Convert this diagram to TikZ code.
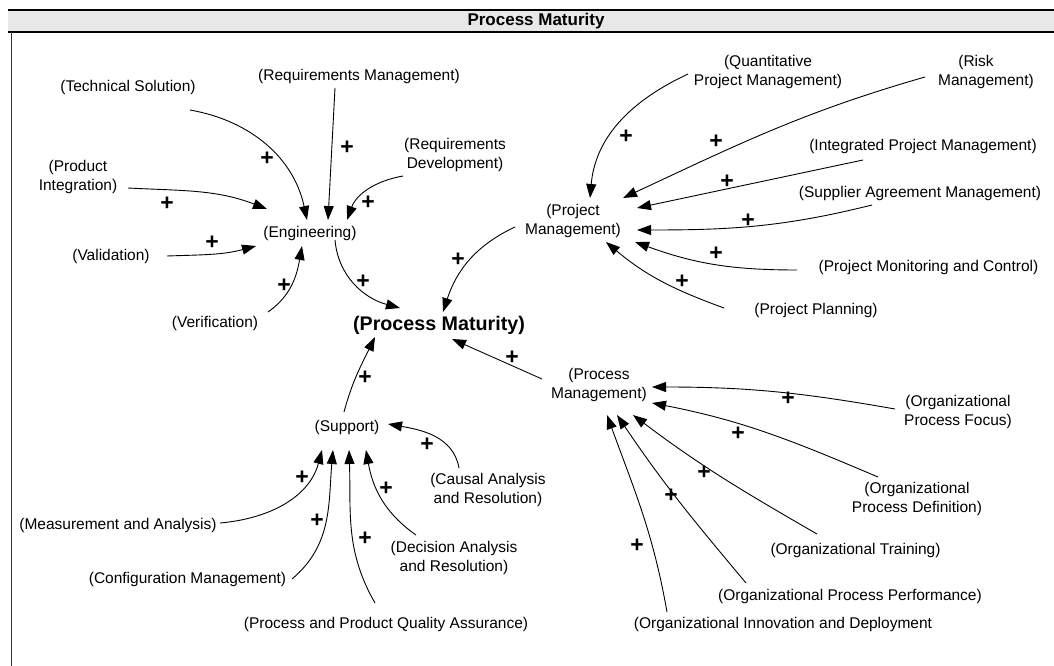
\documentclass[tikz,border=0pt]{standalone}
\usepackage{fontspec}
\setmainfont{Liberation Sans}
\usetikzlibrary{arrows.meta,calc}
\definecolor{bandgrey}{HTML}{E8E8E8}
\begin{document}
\begin{tikzpicture}[x=1pt,y=1pt,
  lbl/.style={font=\fontsize{15.5}{19}\selectfont, align=center, inner sep=0pt},
  big/.style={font=\fontsize{19.7}{22}\selectfont\bfseries, inner sep=0pt},
  pl/.style={font=\fontsize{23}{23}\selectfont\bfseries, inner sep=0pt},
  conn/.style={line width=0.9pt, -{Triangle[length=14pt,width=10pt]}}]
\useasboundingbox (0,0) rectangle (1054,-666);
% frame
\fill[bandgrey] (8,-10) rectangle (1054,-32);
\draw[line width=2pt] (8,-10) -- (1054,-10);
\draw[line width=2pt] (8,-32) -- (1054,-32);
\draw[line width=1pt, black!80] (11,-32) -- (11,-666);
\node[font=\fontsize{17}{17}\selectfont\bfseries, inner sep=0pt] (title) at (536,-21) {Process Maturity};
% nodes
\node[lbl] (ts) at (128,-87) {(Technical Solution)};
\node[lbl] (rm) at (359,-76) {(Requirements Management)};
\node[lbl] (rd) at (455,-155) {(Requirements\\Development)};
\node[lbl] (pi) at (78,-177) {(Product\\Integration)};
\node[lbl] (val) at (111,-256) {(Validation)};
\node[lbl] (eng) at (310,-233) {(Engineering)};
\node[lbl] (ver) at (215,-323) {(Verification)};
\node[big] (pmat) at (439,-325) {(Process Maturity)};
\node[lbl] (pm) at (573,-221) {(Project\\Management)};
\node[lbl] (qpm) at (768,-72) {(Quantitative\\Project Management)};
\node[lbl] (risk) at (986,-72) {(Risk\hspace*{20pt}\\Management)};
\node[lbl] (ipm) at (923,-146) {(Integrated Project Management)};
\node[lbl] (sam) at (920,-193) {(Supplier Agreement Management)};
\node[lbl] (pmc) at (928.5,-267) {(Project Monitoring and Control)};
\node[lbl] (pp) at (816,-310) {(Project Planning)};
\node[lbl] (procm) at (599,-385) {(Process\\Management)};
\node[lbl] (opf) at (958,-412) {(Organizational\\Process Focus)};
\node[lbl] (opd) at (917,-499) {(Organizational\\Process Definition)};
\node[lbl] (ot) at (855.5,-550) {(Organizational Training)};
\node[lbl] (opp) at (850,-596) {(Organizational Process Performance)};
\node[lbl] (oid) at (783,-624) {(Organizational Innovation and Deployment};
\node[lbl] (sup) at (347,-427) {(Support)};
\node[lbl] (car) at (488,-490) {(Causal Analysis\\and Resolution)};
\node[lbl] (dar) at (454,-558) {(Decision Analysis\\and Resolution)};
\node[lbl] (ma) at (118,-525) {(Measurement and Analysis)};
\node[lbl] (cm) at (187.5,-579) {(Configuration Management)};
\node[lbl] (ppqa) at (386,-624) {(Process and Product Quality Assurance)};
% connectors: engineering
\draw[conn] ($(ts)+(62,-23)$) to[out=-10,in=102] ($(eng)+(-3,13)$);
\draw[conn] ($(rm)+(-24,-12)$) -- ($(eng)+(18,13)$);
\draw[conn] ($(rd)+(-52,-21)$) to[out=190,in=70] ($(eng)+(37,13)$);
\draw[conn] ($(pi)+(50,-11)$) to[out=-3,in=159] ($(eng)+(-43,24)$);
\draw[conn] ($(val)+(56,0)$) to[out=2,in=195] ($(eng)+(-54,-13)$);
\draw[conn] ($(ver)+(53,11)$) to[out=35,in=260] ($(eng)+(-8,-13)$);
\draw[conn] ($(eng)+(25,-7)$) to[out=-85,in=165] ($(pmat)+(-39,17)$);
% project management
\draw[conn] ($(pm)+(-58,-6)$) to[out=205,in=72] ($(pmat)+(4,13)$);
\draw[conn] ($(qpm)+(-80,-2)$) to[out=205,in=85] ($(pm)+(17,23)$);
\draw[conn] ($(risk)+(-61,-5)$) to[out=196,in=25] ($(pm)+(50,23)$);
\draw[conn] ($(ipm)+(-60,-14)$) -- ($(pm)+(64,13)$);
\draw[conn] ($(sam)+(-48,-12)$) to[out=194,in=0] ($(pm)+(64,-9)$);
\draw[conn] ($(pmc)+(-131.5,-3)$) to[out=180,in=-20] ($(pm)+(62,-21)$);
\draw[conn] ($(pp)+(-92,2)$) to[out=160,in=-40] ($(pm)+(33,-21)$);
% process management
\draw[conn] ($(procm)+(-57,6)$) -- ($(pmat)+(13,-14)$);
\draw[conn] ($(opf)+(-63,3)$) to[out=170,in=0] ($(procm)+(53,-2)$);
\draw[conn] ($(opd)+(-39,22)$) to[out=157,in=-11] ($(procm)+(53,-18)$);
\draw[conn] ($(ot)+(-38.5,16)$) to[out=150,in=-37] ($(procm)+(34,-30)$);
\draw[conn] ($(opp)+(-104,13)$) to[out=130,in=-56] ($(procm)+(18,-30)$);
\draw[conn] ($(oid)+(-116,12)$) to[out=100,in=-70] ($(procm)+(8,-30)$);
% support
\draw[conn] ($(sup)+(-3,15)$) to[out=75,in=244] ($(pmat)+(-64,-12)$);
\draw[conn] ($(car)+(-29,22)$) to[out=100,in=-10] ($(sup)+(41,3)$);
\draw[conn] ($(ma)+(102,2)$) to[out=5,in=255] ($(sup)+(-25,-23)$);
\draw[conn] ($(cm)+(104.5,0)$) to[out=40,in=265] ($(sup)+(-14,-23)$);
\draw[conn] ($(ppqa)+(-11,21)$) to[out=120,in=272] ($(sup)+(2,-23)$);
\draw[conn] ($(dar)+(-38,23)$) to[out=145,in=280] ($(sup)+(19,-23)$);
% plus signs
\node[pl] (p1) at (267,-159) {+};
\node[pl] (p2) at (347,-148) {+};
\node[pl] (p3) at (368,-203) {+};
\node[pl] (p4) at (167,-204) {+};
\node[pl] (p5) at (212,-243) {+};
\node[pl] (p6) at (284,-286) {+};
\node[pl] (p7) at (363,-282) {+};
\node[pl] (p8) at (458,-260) {+};
\node[pl] (p9) at (626,-137) {+};
\node[pl] (p10) at (716,-142) {+};
\node[pl] (p11) at (727,-182) {+};
\node[pl] (p12) at (748,-221) {+};
\node[pl] (p13) at (716,-254) {+};
\node[pl] (p14) at (682,-282) {+};
\node[pl] (p15) at (512,-358) {+};
\node[pl] (p16) at (788,-399) {+};
\node[pl] (p17) at (738,-434) {+};
\node[pl] (p18) at (704,-473) {+};
\node[pl] (p19) at (671,-496) {+};
\node[pl] (p20) at (637,-546) {+};
\node[pl] (p21) at (365,-378) {+};
\node[pl] (p22) at (427,-445) {+};
\node[pl] (p23) at (302,-478) {+};
\node[pl] (p24) at (317,-521) {+};
\node[pl] (p25) at (365,-539) {+};
\node[pl] (p26) at (386,-489) {+};
\end{tikzpicture}
\end{document}
